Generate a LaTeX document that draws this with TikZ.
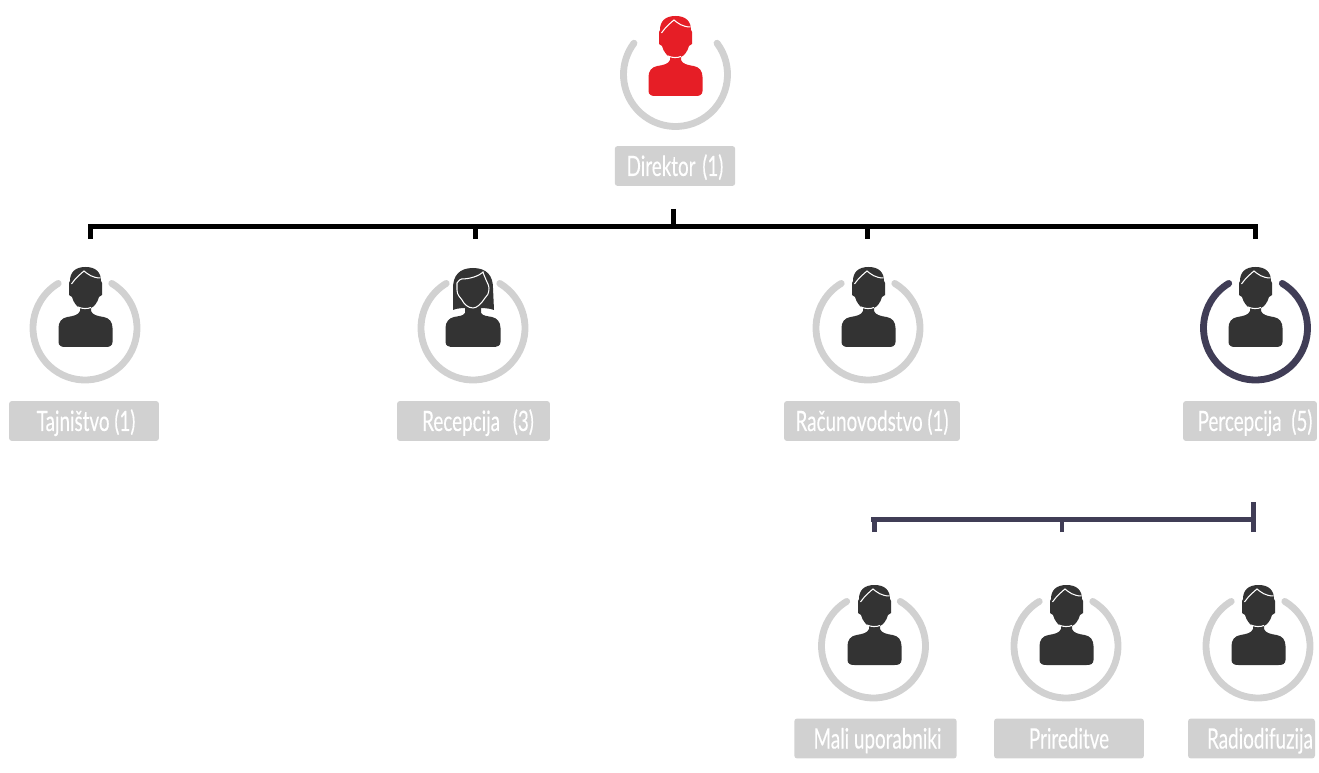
\documentclass[tikz,border=0pt]{standalone}
\usepackage{fontspec}
\setmainfont[FakeStretch=0.67,FakeBold=0.25]{Lato}
\definecolor{tagc}{HTML}{D1D1D1}
\definecolor{iconc}{HTML}{333333}
\definecolor{redc}{HTML}{E61E26}
\definecolor{navyc}{HTML}{403D56}
\begin{document}
\begin{tikzpicture}
[x=0.02cm,y=-0.02cm
,tag/.style={fill=tagc,text=white,rounded corners=1.7pt,inner sep=0pt,minimum height=0.8cm,text height=0.5cm,text depth=0.1cm,font=\fontsize{16}{16}\selectfont}
,bus/.style={draw=black,line width=2.9pt}
,subbus/.style={draw=navyc,line width=2.8pt}
,pics/ring/.style 2 args={code={\draw[#1,line width=3.9pt,line cap=round] (-#2:52) arc[start angle=-#2,end angle=180+#2,radius=52];}}
,pics/man/.style={code={
  \fill[#1] (0,-61) .. controls (10,-61) and (15.5,-56) .. (15.5,-47) -- (16.5,-45) -- (16.5,-33) -- (13.5,-31)
    .. controls (12,-25) and (8,-21) .. (5.5,-20) -- (5.5,-17) .. controls (7,-13) and (12,-12) .. (18,-11)
    .. controls (24,-10) and (27,-6) .. (27,0) -- (27,14) .. controls (27,18) and (24,19) .. (20,19)
    -- (-20,19) .. controls (-24,19) and (-27,18) .. (-27,14) -- (-27,0) .. controls (-27,-6) and (-24,-10) .. (-18,-11)
    .. controls (-12,-12) and (-7,-13) .. (-5.5,-17) -- (-5.5,-20) .. controls (-8,-21) and (-12,-25) .. (-13.5,-31)
    -- (-16.5,-33) -- (-16.5,-45) -- (-15.5,-47) .. controls (-15.5,-56) and (-10,-61) .. (0,-61) -- cycle;
  \draw[white,line width=0.6pt] (-14,-44) .. controls (-10,-50) and (-5,-54) .. (-1.5,-57) .. controls (2,-54) and (7,-50) .. (15,-50);
  \draw[white,line width=0.6pt] (-7.5,-21) .. controls (-3,-19) and (2,-19) .. (5.5,-20.5);}}
,pics/woman/.style={code={
  \fill[#1] (-8,-22) -- (-8,-15) .. controls (-10,-12) and (-14,-12) .. (-19,-11) .. controls (-24,-10) and (-27.5,-6) .. (-27.5,0)
    -- (-27.5,14) .. controls (-27.5,18) and (-24,19) .. (-20,19) -- (20,19) .. controls (24,19) and (27.5,18) .. (27.5,14)
    -- (27.5,0) .. controls (27.5,-6) and (24,-10) .. (19,-11) .. controls (14,-12) and (10,-12) .. (8,-15) -- (8,-22) -- cycle;
  \fill[#1] (0,-60) .. controls (14,-60) and (20,-52) .. (20,-40) -- (21,-18) .. controls (16,-20) and (10,-20) .. (0,-20)
    .. controls (-10,-20) and (-16,-20) .. (-20,-18) -- (-20,-40) .. controls (-20,-52) and (-14,-60) .. (0,-60) -- cycle;
  \draw[white,line width=0.6pt] (-16,-45) .. controls (-14,-48) and (-12,-49) .. (-11.5,-49) .. controls (-3,-49) and (6,-52) .. (10,-56)
    .. controls (11,-52) and (13,-49) .. (14,-46) .. controls (15,-44) and (16,-42) .. (16,-40)
    .. controls (16,-34) and (14,-32) .. (12,-30) .. controls (8,-24) and (4,-20) .. (0,-20)
    .. controls (-5,-20) and (-9,-24) .. (-11,-28) .. controls (-13,-31) and (-16,-33) .. (-16,-38) -- cycle;
  \draw[white,line width=0.6pt] (-20,-15) .. controls (-16,-16) and (-12,-17) .. (-9,-18);
  \draw[white,line width=0.6pt] (20,-15) .. controls (16,-16) and (12,-17) .. (9,-18);}}
]
\useasboundingbox (0,0) rectangle (1319,773);
% head of the chart
\pic at (675.5,74.5) {ring={tagc}{37}};
\pic at (675.5,77) {man=redc};
\node[tag,minimum width=2.41cm] (direktor) at (675,166) {Direktor\hspace{0.04cm} (1)};
% first row
\pic at (85,328) {ring={tagc}{59}};
\pic at (85.5,328) {man=iconc};
\node[tag,minimum width=3cm] (tajnistvo) at (84,421) {\hspace{0.08cm}Tajništvo (1)};
\pic at (473,328) {ring={tagc}{59}};
\pic at (473,328) {woman=iconc};
\node[tag,minimum width=3.06cm] (recepcija) at (473.5,421) {\hspace{0.18cm}Recepcija\hspace{0.16cm} (3)};
\pic at (868,328) {ring={tagc}{59}};
\pic at (868.5,328) {man=iconc};
\node[tag,minimum width=3.52cm] (racunovodstvo) at (872,421) {Računovodstvo (1)};
\pic at (1255.5,328) {ring={navyc}{59}};
\pic at (1255.5,328) {man=iconc};
\node[tag,minimum width=2.68cm] (percepcija) at (1250,421) {\hspace{0.2cm}Percepcija\hspace{0.1cm} (5)};
% second row
\pic at (873.5,646) {ring={tagc}{59}};
\pic at (874.5,646) {man=iconc};
\node[tag,minimum width=3.25cm] (mali) at (875.5,738.5) {\hspace{0.08cm}Mali uporabniki};
\pic at (1066,646) {ring={tagc}{59}};
\pic at (1066.5,646) {man=iconc};
\node[tag,minimum width=3cm] (prireditve) at (1069,738.5) {Prireditve};
\pic at (1258,646) {ring={tagc}{59}};
\pic at (1258.5,646) {man=iconc};
\node[tag,minimum width=2.54cm] (radiodifuzija) at (1251.5,738.5) {\hspace{0.34cm}Radiodifuzija};
% connectors
\coordinate (busl) at (88,226.5);
\coordinate (busr) at (1258,226.5);
\coordinate (drop0) at (673.5,209);
\coordinate (drop1) at (90.5,239);
\coordinate (drop2) at (475.5,239);
\coordinate (drop3) at (867.5,239);
\coordinate (drop4) at (1255.5,239);
\draw[bus] (busl) -- (busr);
\draw[bus] (drop0) -- (drop0 |- busl);
\draw[bus] (drop1) -- (drop1 |- busl);
\draw[bus] (drop2) -- (drop2 |- busl);
\draw[bus] (drop3) -- (drop3 |- busl);
\draw[bus] (drop4) -- (drop4 |- busl);
\coordinate (subl) at (871,519.5);
\coordinate (subr) at (1253.5,519.5);
\coordinate (sub1) at (874.5,532);
\coordinate (sub2) at (1062,532);
\coordinate (sub3) at (1253.5,532);
\coordinate (sub4) at (1253.5,502);
\draw[subbus] (subl) -- (subr);
\draw[subbus] (sub1) -- (sub1 |- subl);
\draw[subbus] (sub2) -- (sub2 |- subl);
\draw[subbus] (sub3) -- (sub4);
\end{tikzpicture}
\end{document}
